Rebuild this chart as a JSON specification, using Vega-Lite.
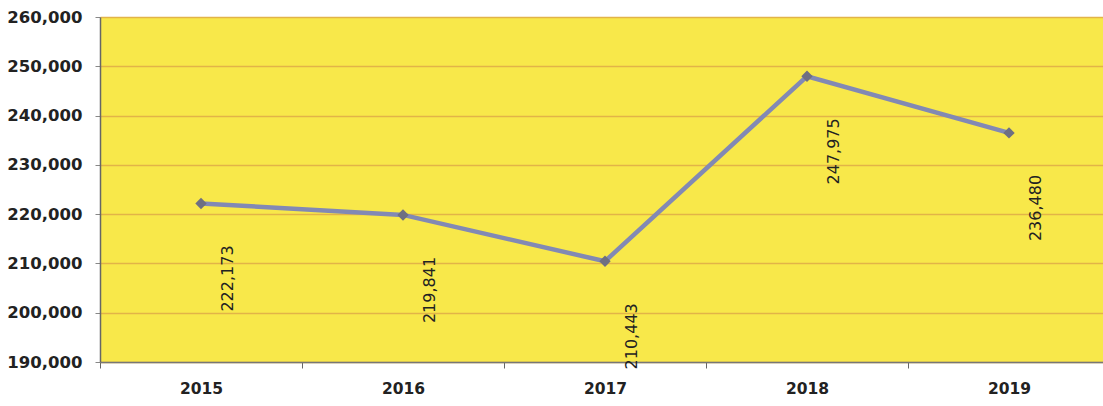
{
  "$schema": "https://vega.github.io/schema/vega-lite/v6.json",
  "autosize": {"type": "none"},
  "padding": {"left": 100, "top": 17, "right": 0, "bottom": 44},
  "width": 1010,
  "height": 345,
  "background": "#ffffff",
  "config": {
    "view": {"fill": "#f8e84a", "stroke": null}
  },
  "data": {
    "values": [
      {"year": "2015", "value": 222173},
      {"year": "2016", "value": 219841},
      {"year": "2017", "value": 210443},
      {"year": "2018", "value": 247975},
      {"year": "2019", "value": 236480}
    ]
  },
  "encoding": {
    "x": {
      "field": "year",
      "type": "nominal",
      "scale": {"type": "band", "paddingInner": 0, "paddingOuter": 0},
      "axis": {
        "title": null,
        "labelAngle": 0,
        "labelFont": "DejaVu Sans",
        "labelFontWeight": "bold",
        "labelFontSize": 15.5,
        "labelColor": "#222222",
        "labelPadding": 13,
        "tickBand": "extent",
        "tickSize": 6,
        "tickColor": "#666666",
        "domainColor": "#777777",
        "domainWidth": 1.5,
        "grid": false
      }
    },
    "y": {
      "field": "value",
      "type": "quantitative",
      "scale": {"domain": [190000, 260000], "nice": false, "zero": false},
      "axis": {
        "title": null,
        "values": [190000, 200000, 210000, 220000, 230000, 240000, 250000, 260000],
        "format": ",.0f",
        "labelFont": "DejaVu Sans",
        "labelFontWeight": "bold",
        "labelFontSize": 16.5,
        "labelColor": "#222222",
        "labelPadding": 13,
        "tickSize": 5,
        "tickColor": "#888888",
        "domainColor": "#666666",
        "domainWidth": 1.5,
        "grid": true,
        "gridColor": "#e2b448",
        "gridWidth": 1.3
      }
    }
  },
  "layer": [
    {
      "mark": {"type": "line", "color": "#8289b4", "strokeWidth": 4.5}
    },
    {
      "mark": {"type": "point", "shape": "diamond", "filled": true, "color": "#6e6f82", "size": 130, "opacity": 1}
    },
    {
      "mark": {
        "type": "text",
        "angle": 270,
        "align": "right",
        "baseline": "middle",
        "dx": -42,
        "dy": 27,
        "font": "DejaVu Sans",
        "fontSize": 16,
        "color": "#222222"
      },
      "encoding": {
        "text": {"field": "value", "type": "quantitative", "format": ",.0f"}
      }
    }
  ]
}
